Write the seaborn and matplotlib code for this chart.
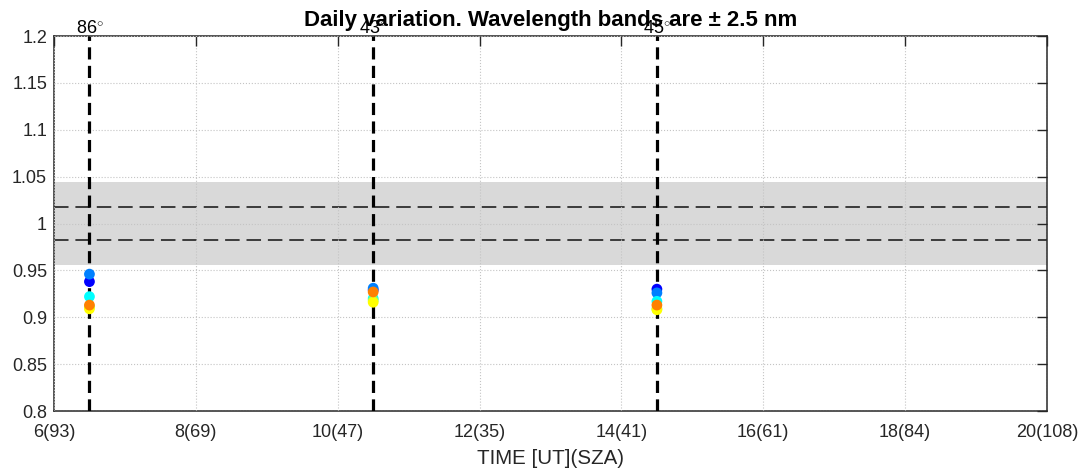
import numpy as np
import pandas as pd
import matplotlib
matplotlib.use("Agg")
import matplotlib.pyplot as plt
import seaborn as sns

# Measurement times (UT hours) and the solar zenith angle at each one
times = [6.5, 10.5, 14.5]
sza_at_times = ["86", "43", "45"]

# Ratio per wavelength band at each measurement time
band_names = ["band 1", "band 2", "band 3", "band 4", "band 5", "band 6"]
band_1 = [0.938, 0.929, 0.930]
band_2 = [0.946, 0.931, 0.926]
band_3 = [0.922, 0.920, 0.917]
band_4 = [0.911, 0.918, 0.909]
band_5 = [0.909, 0.916, 0.908]
band_6 = [0.913, 0.927, 0.913]
band_values = [band_1, band_2, band_3, band_4, band_5, band_6]

# Axis tick labels: hour(SZA)
x_ticks = [6, 8, 10, 12, 14, 16, 18, 20]
x_tick_labels = ["6(93)", "8(69)", "10(47)", "12(35)", "14(41)", "16(61)", "18(84)", "20(108)"]
y_ticks = [0.8, 0.85, 0.9, 0.95, 1.0, 1.05, 1.1, 1.15, 1.2]
y_tick_labels = ["0.8", "0.85", "0.9", "0.95", "1", "1.05", "1.1", "1.15", "1.2"]

# Tolerance limits
outer_band = (0.956, 1.044)
inner_limits = [0.9825, 1.0175]

# jet colormap with six entries
jet6 = [(0, 0, 1), (0, 0.5, 1), (0, 1, 1), (0.5, 1, 0.5), (1, 1, 0), (1, 0.5, 0)]

rows = []
for name, vals in zip(band_names, band_values):
    for t, v in zip(times, vals):
        rows.append({"time": t, "ratio": v, "band": name})
df = pd.DataFrame(rows)

sns.set_theme(style="white")
plt.rcParams["font.family"] = ["Liberation Sans", "DejaVu Sans"]
plt.rcParams["mathtext.fontset"] = "custom"
plt.rcParams["mathtext.rm"] = "Liberation Sans"

fig = plt.figure(figsize=(10.84, 4.70), dpi=100)
ax = fig.add_axes([0.0498, 0.1255, 0.9161, 0.7979])

ax.axhspan(*outer_band, color="#d9d9d9", lw=0, zorder=0.5)
for yl in inner_limits:
    ax.axhline(yl, color="#111111", lw=1.1, ls=(0, (9.5, 4.5)), zorder=2)
for t in times:
    ax.axvline(t, color="black", lw=2.3, ls=(0, (3.8, 2.0)), zorder=3)

sns.scatterplot(data=df, x="time", y="ratio", hue="band", palette=jet6,
                s=60, linewidth=0, legend=False, ax=ax, zorder=4)

for t, sza in zip(times, sza_at_times):
    ax.annotate(sza + r"$^{\circ}$", xy=(t, 1.2), xytext=(0, 2.0),
                textcoords="offset points", ha="center", va="baseline",
                fontsize=13, color="black", annotation_clip=False, zorder=2.8)

ax.set_xlim(6, 20)
ax.set_ylim(0.8, 1.2)
ax.set_xticks(x_ticks)
ax.set_xticklabels(x_tick_labels)
ax.set_yticks(y_ticks)
ax.set_yticklabels(y_tick_labels)

ax.grid(True, ls=":", color="#c4c4c4", lw=0.8)
ax.set_axisbelow(False)
for sp in ax.spines.values():
    sp.set_color("#262626")
    sp.set_linewidth(1.1)
ax.tick_params(direction="in", length=7, width=1.0, color="#262626",
               top=True, right=True, labelsize=13, labelcolor="#262626")
ax.tick_params(axis="x", pad=9)
ax.tick_params(axis="y", pad=5)

ax.set_xlabel("TIME [UT](SZA)", fontsize=14.8, color="#262626", labelpad=6)
ax.set_ylabel("")
ax.set_title("Daily variation. Wavelength bands are \u00b1 2.5 nm",
             fontsize=16, fontweight="bold", color="black", pad=7, zorder=5)

fig.savefig("out.png", dpi=100)
